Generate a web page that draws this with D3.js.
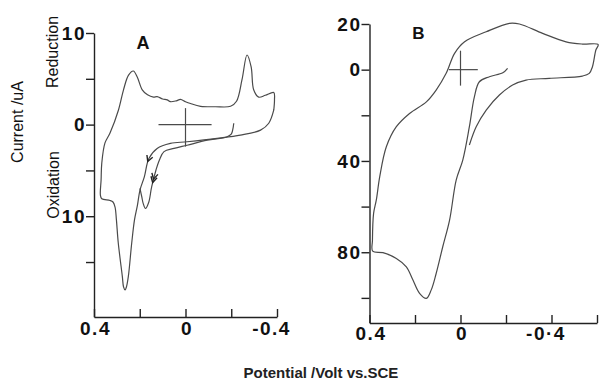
<!DOCTYPE html>
<html>
<head>
<meta charset="utf-8">
<script src="https://cdn.jsdelivr.net/npm/d3@7"></script>
<style>
body { margin: 0; background: #fff; }
</style>
</head>
<body>
<script>
var svgWidth = 601, svgHeight = 381;

// Panel A: [potential V, current uA], reduction is positive
var aScan1 = [[-0.386,1.6],[-0.364,0.15],[-0.328,-0.6],[-0.24,-1.15],[-0.138,-1.5],[-0.007,-1.87],
  [0.066,-2.05],[0.124,-2.6],[0.16,-3.7],[0.18,-5.7],[0.199,-7.14],[0.21,-8.78],[0.223,-10.4],
  [0.235,-12.9],[0.25,-16.6],[0.258,-17.7],[0.264,-18.05],[0.271,-17.7],[0.276,-16.6],[0.294,-12.9],
  [0.302,-10.4],[0.308,-9.0],[0.317,-8.45],[0.33,-8.28],[0.366,-8.1],[0.372,-7.7],[0.369,-6.05],
  [0.366,-4.2],[0.352,-2.0],[0.33,-0.92],[0.293,1.6],[0.271,3.8],[0.249,5.4],[0.228,5.85],
  [0.211,5.2],[0.189,3.8],[0.166,3.25],[0.14,3.0],[0.124,3.05],[0.1,2.8],[0.08,2.7],[0.066,2.5],
  [0.04,2.6],[0.022,2.75],[0,2.5],[-0.022,2.3],[-0.066,2.0],[-0.131,1.95],[-0.197,2.0],
  [-0.223,2.55],[-0.247,4.9],[-0.269,7.6],[-0.287,6.3],[-0.298,3.8],[-0.32,3.0],[-0.349,3.2],
  [-0.386,3.5],[-0.389,2.7],[-0.386,1.6]];
var aScan2 = [[-0.211,0.15],[-0.207,-0.5],[-0.2,-1.05],[-0.18,-1.35],[-0.095,-1.7],[-0.007,-2.25],
  [0.05,-2.6],[0.094,-2.95],[0.114,-3.85],[0.129,-4.95],[0.148,-6.8],[0.161,-8.5],[0.175,-9.15],
  [0.185,-8.6],[0.191,-7.9],[0.199,-6.95]];
var aArrowAt = [[0.166,-4.0],[0.143,-6.3]];
var aArrowCount = [1, 2];
var aArrowScan = [0, 1];
var aCrossV = [0.118, -0.114];
var aCrossI = [1.8, -2.4];

var aTicksX = [0.4, 0.2, 0, -0.2, -0.4];
var aLabelsX = ["0.4", "", "0", "", "-0.4"];
var aTicksY = [10, 5, 0, -5, -10, -15];
var aLabelsY = ["10", "", "0", "", "10", ""];

// Panel B
var bScan1 = [[-0.039,-33.0],[-0.069,-25.0],[-0.113,-17.7],[-0.171,-11.1],[-0.229,-6.75],[-0.288,-4.56],
  [-0.39,-3.81],[-0.536,-2.8],[-0.566,-1.62],[-0.58,1.27],[-0.595,8.59],[-0.605,11.0],[-0.536,11.2],
  [-0.464,12.2],[-0.361,15.9],[-0.259,20.0],[-0.215,20.3],[-0.113,16.6],[-0.018,12.2],[0.026,7.14],
  [0.063,-1.62],[0.107,-8.94],[0.15,-14.1],[0.224,-19.2],[0.282,-25.0],[0.326,-33.8],[0.355,-46.9],
  [0.37,-57.1],[0.382,-63.0],[0.387,-74.7],[0.386,-79.5],[0.341,-80.2],[0.282,-82.7],[0.238,-86.4],
  [0.209,-92.2],[0.18,-98.0],[0.15,-100.2],[0.129,-96.6],[0.107,-89.3],[0.078,-77.6],[0.048,-65.9],
  [0.019,-48.4],[-0.01,-39.6],[-0.039,-25.0],[-0.061,-11.9],[-0.083,-5.3],[-0.127,-3.11],
  [-0.186,-1.36],[-0.207,0.57]];
var bCrossV = [0.051, -0.076];
var bCrossI = [8.3, -7.0];

var bTicksX = [0.4, 0.2, 0, -0.2, -0.4, -0.6];
var bLabelsX = ["0.4", "", "0", "", "-0·4", ""];
var bTicksY = [20, 0, -20, -40, -60, -80, -100];
var bLabelsY = ["20", "0", "", "40", "", "80", ""];

var font = "'Liberation Sans', Arial, Helvetica, sans-serif";
var ink = "#222";
var curveInk = "#4a4a4a";

var svg = d3.select("body").append("svg")
  .attr("width", svgWidth)
  .attr("height", svgHeight)
  .style("font-family", font);

var ax = d3.scaleLinear().domain([0.4, -0.4]).range([94, 277]);
var ay = d3.scaleLinear().domain([10, -21]).range([33, 317]);
var bx = d3.scaleLinear().domain([0.4, -0.6]).range([369.5, 597]);
var by = d3.scaleLinear().domain([20, -111]).range([24, 323]);

function drawAxes(x, y, ticksX, labelsX, ticksY, labelsY, padX) {
  var gx = svg.append("g")
    .attr("transform", `translate(0,${y.range()[1]})`)
    .call(d3.axisBottom(x).tickValues(ticksX).tickSize(-8).tickSizeOuter(0)
      .tickPadding(padX).tickFormat((d, i) => labelsX[i]));
  gx.selectAll("text").attr("dx", (d, i) => labelsX[i].charAt(0) == "-" ? -6 : 1);

  var gy = svg.append("g")
    .attr("transform", `translate(${x.range()[0]},0)`)
    .call(d3.axisLeft(y).tickValues(ticksY).tickSize(8).tickSizeOuter(0)
      .tickPadding(0).tickFormat((d, i) => labelsY[i]));

  [gx, gy].forEach(function(g) {
    g.selectAll("path, line").attr("stroke", ink).attr("stroke-width", 1.4);
    g.selectAll("text")
      .attr("font-size", 19)
      .attr("font-weight", "bold")
      .attr("font-family", font)
      .attr("letter-spacing", 1.5)
      .attr("fill", "#111");
  });
}

function drawCross(x, y, crossV, crossI) {
  svg.append("line")
    .attr("x1", x(crossV[0])).attr("x2", x(crossV[1]))
    .attr("y1", y(0)).attr("y2", y(0))
    .attr("stroke", curveInk).attr("stroke-width", 1.2);
  svg.append("line")
    .attr("x1", x(0)).attr("x2", x(0))
    .attr("y1", y(crossI[0])).attr("y2", y(crossI[1]))
    .attr("stroke", curveInk).attr("stroke-width", 1.2);
}

function drawScan(x, y, pts) {
  var line = d3.line()
    .x(d => x(d[0]))
    .y(d => y(d[1]))
    .curve(d3.curveCatmullRom.alpha(0.5));
  return svg.append("path")
    .datum(pts)
    .attr("d", line)
    .attr("fill", "none")
    .attr("stroke", curveInk)
    .attr("stroke-width", 1.2);
}

drawAxes(ax, ay, aTicksX, aLabelsX, aTicksY, aLabelsY, 5);
drawAxes(bx, by, bTicksX, bLabelsX, bTicksY, bLabelsY, 4);

var aPaths = [drawScan(ax, ay, aScan1), drawScan(ax, ay, aScan2)];
drawScan(bx, by, bScan1);
drawCross(ax, ay, aCrossV, aCrossI);
drawCross(bx, by, bCrossV, bCrossI);

// arrowheads along the scans
aArrowAt.forEach(function(p, k) {
  var node = aPaths[aArrowScan[k]].node();
  var total = node.getTotalLength();
  var px = ax(p[0]), py = ay(p[1]);
  var best = 0, bestD = 1e9;
  for (var l = 0; l <= total; l += 0.5) {
    var q = node.getPointAtLength(l);
    var dd = (q.x - px) * (q.x - px) + (q.y - py) * (q.y - py);
    if (dd < bestD) { bestD = dd; best = l; }
  }
  for (var n = 0; n < aArrowCount[k]; n++) {
    var l0 = best - n * 3.5;
    var tip = node.getPointAtLength(l0);
    var back = node.getPointAtLength(Math.max(0, l0 - 3));
    var ang = Math.atan2(tip.y - back.y, tip.x - back.x);
    var len = 6.5, spread = 0.5;
    var d = "M" + (tip.x - len * Math.cos(ang - spread)) + "," + (tip.y - len * Math.sin(ang - spread)) +
      "L" + tip.x + "," + tip.y +
      "L" + (tip.x - len * Math.cos(ang + spread)) + "," + (tip.y - len * Math.sin(ang + spread));
    svg.append("path").attr("d", d).attr("fill", "none")
      .attr("stroke", "#222").attr("stroke-width", 1.4);
  }
});

// panel letters
svg.append("text").attr("x", 143).attr("y", 49).attr("text-anchor", "middle")
  .attr("font-size", 18).attr("font-weight", "bold").attr("fill", "#111").text("A");
svg.append("text").attr("x", 418.5).attr("y", 38.5).attr("text-anchor", "middle")
  .attr("font-size", 17).attr("font-weight", "bold").attr("fill", "#111").text("B");

// axis titles
svg.append("text").attr("transform", "translate(23,122) rotate(-90)")
  .attr("text-anchor", "middle").attr("font-size", 16).attr("fill", "#111").text("Current /uA");
svg.append("text").attr("transform", "translate(58,52) rotate(-90)")
  .attr("text-anchor", "middle").attr("font-size", 16).attr("fill", "#111").text("Reduction");
svg.append("text").attr("transform", "translate(59,185) rotate(-90)")
  .attr("text-anchor", "middle").attr("font-size", 16).attr("fill", "#111").text("Oxidation");
svg.append("text").attr("x", 321).attr("y", 378).attr("text-anchor", "middle")
  .attr("font-size", 15).attr("font-weight", "bold").attr("fill", "#222")
  .text("Potential /Volt vs.SCE");
</script>
</body>
</html>
